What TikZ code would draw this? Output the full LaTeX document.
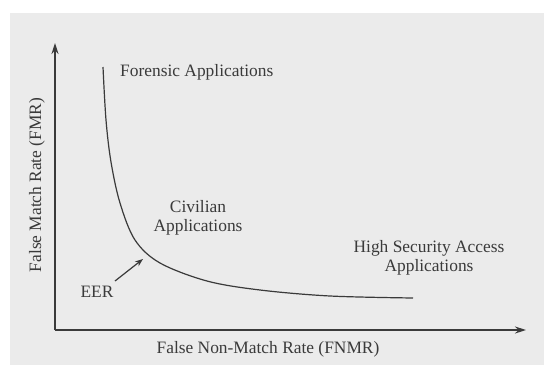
\documentclass[tikz,border=0pt]{standalone}
\usepackage{fontspec}
\setmainfont{Liberation Serif}
\usetikzlibrary{arrows.meta}
\definecolor{bg}{HTML}{EBEBEB}
\definecolor{ink}{HTML}{3A3A3A}
\begin{document}
\begin{tikzpicture}[x=1pt,y=-1pt,
  lbl/.style={text=ink,font=\fontsize{17.4}{20}\selectfont,inner sep=0pt,align=center},
  axis/.style={draw=ink,line width=1.5pt,-{Stealth[length=11pt,width=7pt]}},
  curve/.style={draw=ink,line width=1.2pt}]
\useasboundingbox (0,0) rectangle (544,365);
\fill[bg] (10,13) rectangle (544,365);
\coordinate (O) at (55,330);
\coordinate (Ytip) at (55,43);
\coordinate (Xtip) at (526,330);
\draw[axis] (O) -- (Ytip);
\draw[axis] (O) -- (Xtip);
\draw[curve] plot[smooth,tension=0.55] coordinates {(103,67) (106,120) (111,162) (120,203) (135,240) (160,263) (207,281) (260,290) (330,296) (413,298)};
\node[lbl,anchor=west] (foren) at (120,72) {Forensic Applications};
\node[lbl] (civ) at (198,218) {Civilian\\[-1pt]Applications};
\node[lbl] (high) at (429,258) {High Security Access\\[-1pt]Applications};
\node[lbl] (eer) at (97,292) {EER};
\coordinate (eerstart) at (115,281);
\coordinate (eertip) at (143,259);
\draw[draw=ink,line width=1.2pt,-{Stealth[length=8pt,width=6pt]}] (eerstart) -- (eertip);
\node[lbl] (xl) at (268,349) {False Non-Match Rate (FNMR)};
\node[lbl,rotate=90] (yl) at (37,185) {False Match Rate (FMR)};
\end{tikzpicture}
\end{document}
